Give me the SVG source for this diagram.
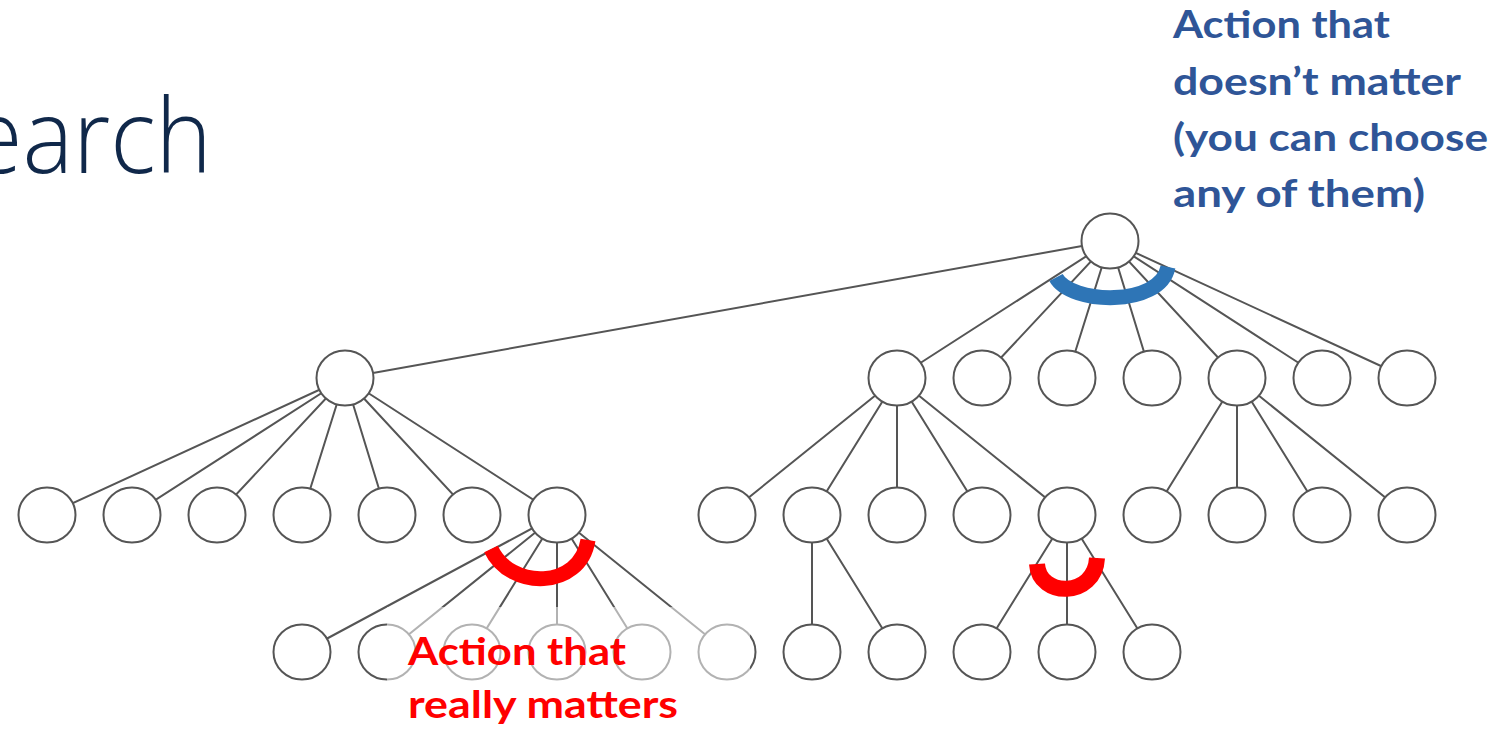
<svg xmlns="http://www.w3.org/2000/svg" width="1508" height="731" viewBox="0 0 1508 731">
  <style>
    .edge { stroke: #555; stroke-width: 2; fill: none; }
    .node { fill: #fff; stroke: #555; stroke-width: 2; }
    .title { font-family: "Open Sans", "Liberation Sans", sans-serif; font-weight: 300; font-size: 103px; fill: #10284a; }
    .blue { font-family: Lato, "Open Sans", "Liberation Sans", sans-serif; font-weight: 700; font-size: 38px; fill: #2f5597; }
    .red { font-family: Lato, "Open Sans", "Liberation Sans", sans-serif; font-weight: 700; font-size: 38px; fill: #ff0000; }
    .arc-blue { fill: none; stroke: #2e75b6; stroke-width: 15; }
    .arc-red { fill: none; stroke: #ff0000; stroke-width: 15; }
  </style>
  <defs>
    <ellipse id="c" cx="0" cy="0" rx="28.5" ry="27.5"/>
  </defs>
  <rect width="1508" height="731" fill="#fff"/>

  <text class="title" x="-30" y="173" textLength="242" lengthAdjust="spacingAndGlyphs">earch</text>

  <!-- tree edges, centre to centre; nodes are drawn over them -->
  <g id="edges">
    <path class="edge" d="M1110 241 L345 378 M1110 241 L897 378 M1110 241 L982 378 M1110 241 L1067 378 M1110 241 L1152 378 M1110 241 L1237 378 M1110 241 L1322 378 M1110 241 L1407 378"/>
    <path class="edge" d="M345 378 L47 515 M345 378 L132 515 M345 378 L217 515 M345 378 L302 515 M345 378 L387 515 M345 378 L472 515 M345 378 L557 515"/>
    <path class="edge" d="M897 378 L727 515 M897 378 L812 515 M897 378 L897 515 M897 378 L982 515 M897 378 L1067 515"/>
    <path class="edge" d="M1237 378 L1152 515 M1237 378 L1237 515 M1237 378 L1322 515 M1237 378 L1407 515"/>
    <path class="edge" d="M557 515 L302 652 M557 515 L387 652 M557 515 L472 652 M557 515 L557 652 M557 515 L642 652 M557 515 L727 652"/>
    <path class="edge" d="M812 515 L812 652 M812 515 L897 652"/>
    <path class="edge" d="M1067 515 L982 652 M1067 515 L1067 652 M1067 515 L1152 652"/>
  </g>

  <!-- level 0 -->
  <g id="root"><use href="#c" class="node" x="1110" y="241"/></g>
  <!-- level 1 -->
  <g id="n1"><use href="#c" class="node" x="345" y="378"/></g>
  <g id="n2"><use href="#c" class="node" x="897" y="378"/></g>
  <g id="n3"><use href="#c" class="node" x="982" y="378"/></g>
  <g id="n4"><use href="#c" class="node" x="1067" y="378"/></g>
  <g id="n5"><use href="#c" class="node" x="1152" y="378"/></g>
  <g id="n6"><use href="#c" class="node" x="1237" y="378"/></g>
  <g id="n7"><use href="#c" class="node" x="1322" y="378"/></g>
  <g id="n8"><use href="#c" class="node" x="1407" y="378"/></g>
  <!-- level 2 -->
  <g id="n1-1"><use href="#c" class="node" x="47" y="515"/></g>
  <g id="n1-2"><use href="#c" class="node" x="132" y="515"/></g>
  <g id="n1-3"><use href="#c" class="node" x="217" y="515"/></g>
  <g id="n1-4"><use href="#c" class="node" x="302" y="515"/></g>
  <g id="n1-5"><use href="#c" class="node" x="387" y="515"/></g>
  <g id="n1-6"><use href="#c" class="node" x="472" y="515"/></g>
  <g id="n1-7"><use href="#c" class="node" x="557" y="515"/></g>
  <g id="n2-1"><use href="#c" class="node" x="727" y="515"/></g>
  <g id="n2-2"><use href="#c" class="node" x="812" y="515"/></g>
  <g id="n2-3"><use href="#c" class="node" x="897" y="515"/></g>
  <g id="n2-4"><use href="#c" class="node" x="982" y="515"/></g>
  <g id="n2-5"><use href="#c" class="node" x="1067" y="515"/></g>
  <g id="n6-1"><use href="#c" class="node" x="1152" y="515"/></g>
  <g id="n6-2"><use href="#c" class="node" x="1237" y="515"/></g>
  <g id="n6-3"><use href="#c" class="node" x="1322" y="515"/></g>
  <g id="n6-4"><use href="#c" class="node" x="1407" y="515"/></g>
  <!-- level 3 -->
  <g id="n1-7-1"><use href="#c" class="node" x="302" y="652"/></g>
  <g id="n1-7-2"><use href="#c" class="node" x="387" y="652"/></g>
  <g id="n1-7-3"><use href="#c" class="node" x="472" y="652"/></g>
  <g id="n1-7-4"><use href="#c" class="node" x="557" y="652"/></g>
  <g id="n1-7-5"><use href="#c" class="node" x="642" y="652"/></g>
  <g id="n1-7-6"><use href="#c" class="node" x="727" y="652"/></g>
  <g id="n2-2-1"><use href="#c" class="node" x="812" y="652"/></g>
  <g id="n2-2-2"><use href="#c" class="node" x="897" y="652"/></g>
  <g id="n2-5-1"><use href="#c" class="node" x="982" y="652"/></g>
  <g id="n2-5-2"><use href="#c" class="node" x="1067" y="652"/></g>
  <g id="n2-5-3"><use href="#c" class="node" x="1152" y="652"/></g>

  <!-- choice arcs -->
  <path class="arc-blue" d="M1056 277.5 C1070 304 1160 308 1168 267"/>
  <path class="arc-red" d="M491 549 C510 590 580 590 588 540"/>
  <path class="arc-red" style="stroke-width:16" d="M1037 564 C1039 598 1095 598 1097 558"/>

  <!-- translucent backing for the red label -->
  <rect x="387" y="607" width="363" height="124" fill="#fff" opacity="0.55"/>

  <g id="label-red">
    <text class="red" x="408" y="665" textLength="218" lengthAdjust="spacingAndGlyphs">Action that</text>
    <text class="red" x="408" y="718" textLength="270" lengthAdjust="spacingAndGlyphs">really matters</text>
  </g>
  <g id="label-blue">
    <text class="blue" x="1173" y="38" textLength="217" lengthAdjust="spacingAndGlyphs">Action that</text>
    <text class="blue" x="1173" y="95" textLength="288" lengthAdjust="spacingAndGlyphs">doesn’t matter</text>
    <text class="blue" x="1173" y="151" textLength="315" lengthAdjust="spacingAndGlyphs">(you can choose</text>
    <text class="blue" x="1173" y="207" textLength="252" lengthAdjust="spacingAndGlyphs">any of them)</text>
  </g>
</svg>
